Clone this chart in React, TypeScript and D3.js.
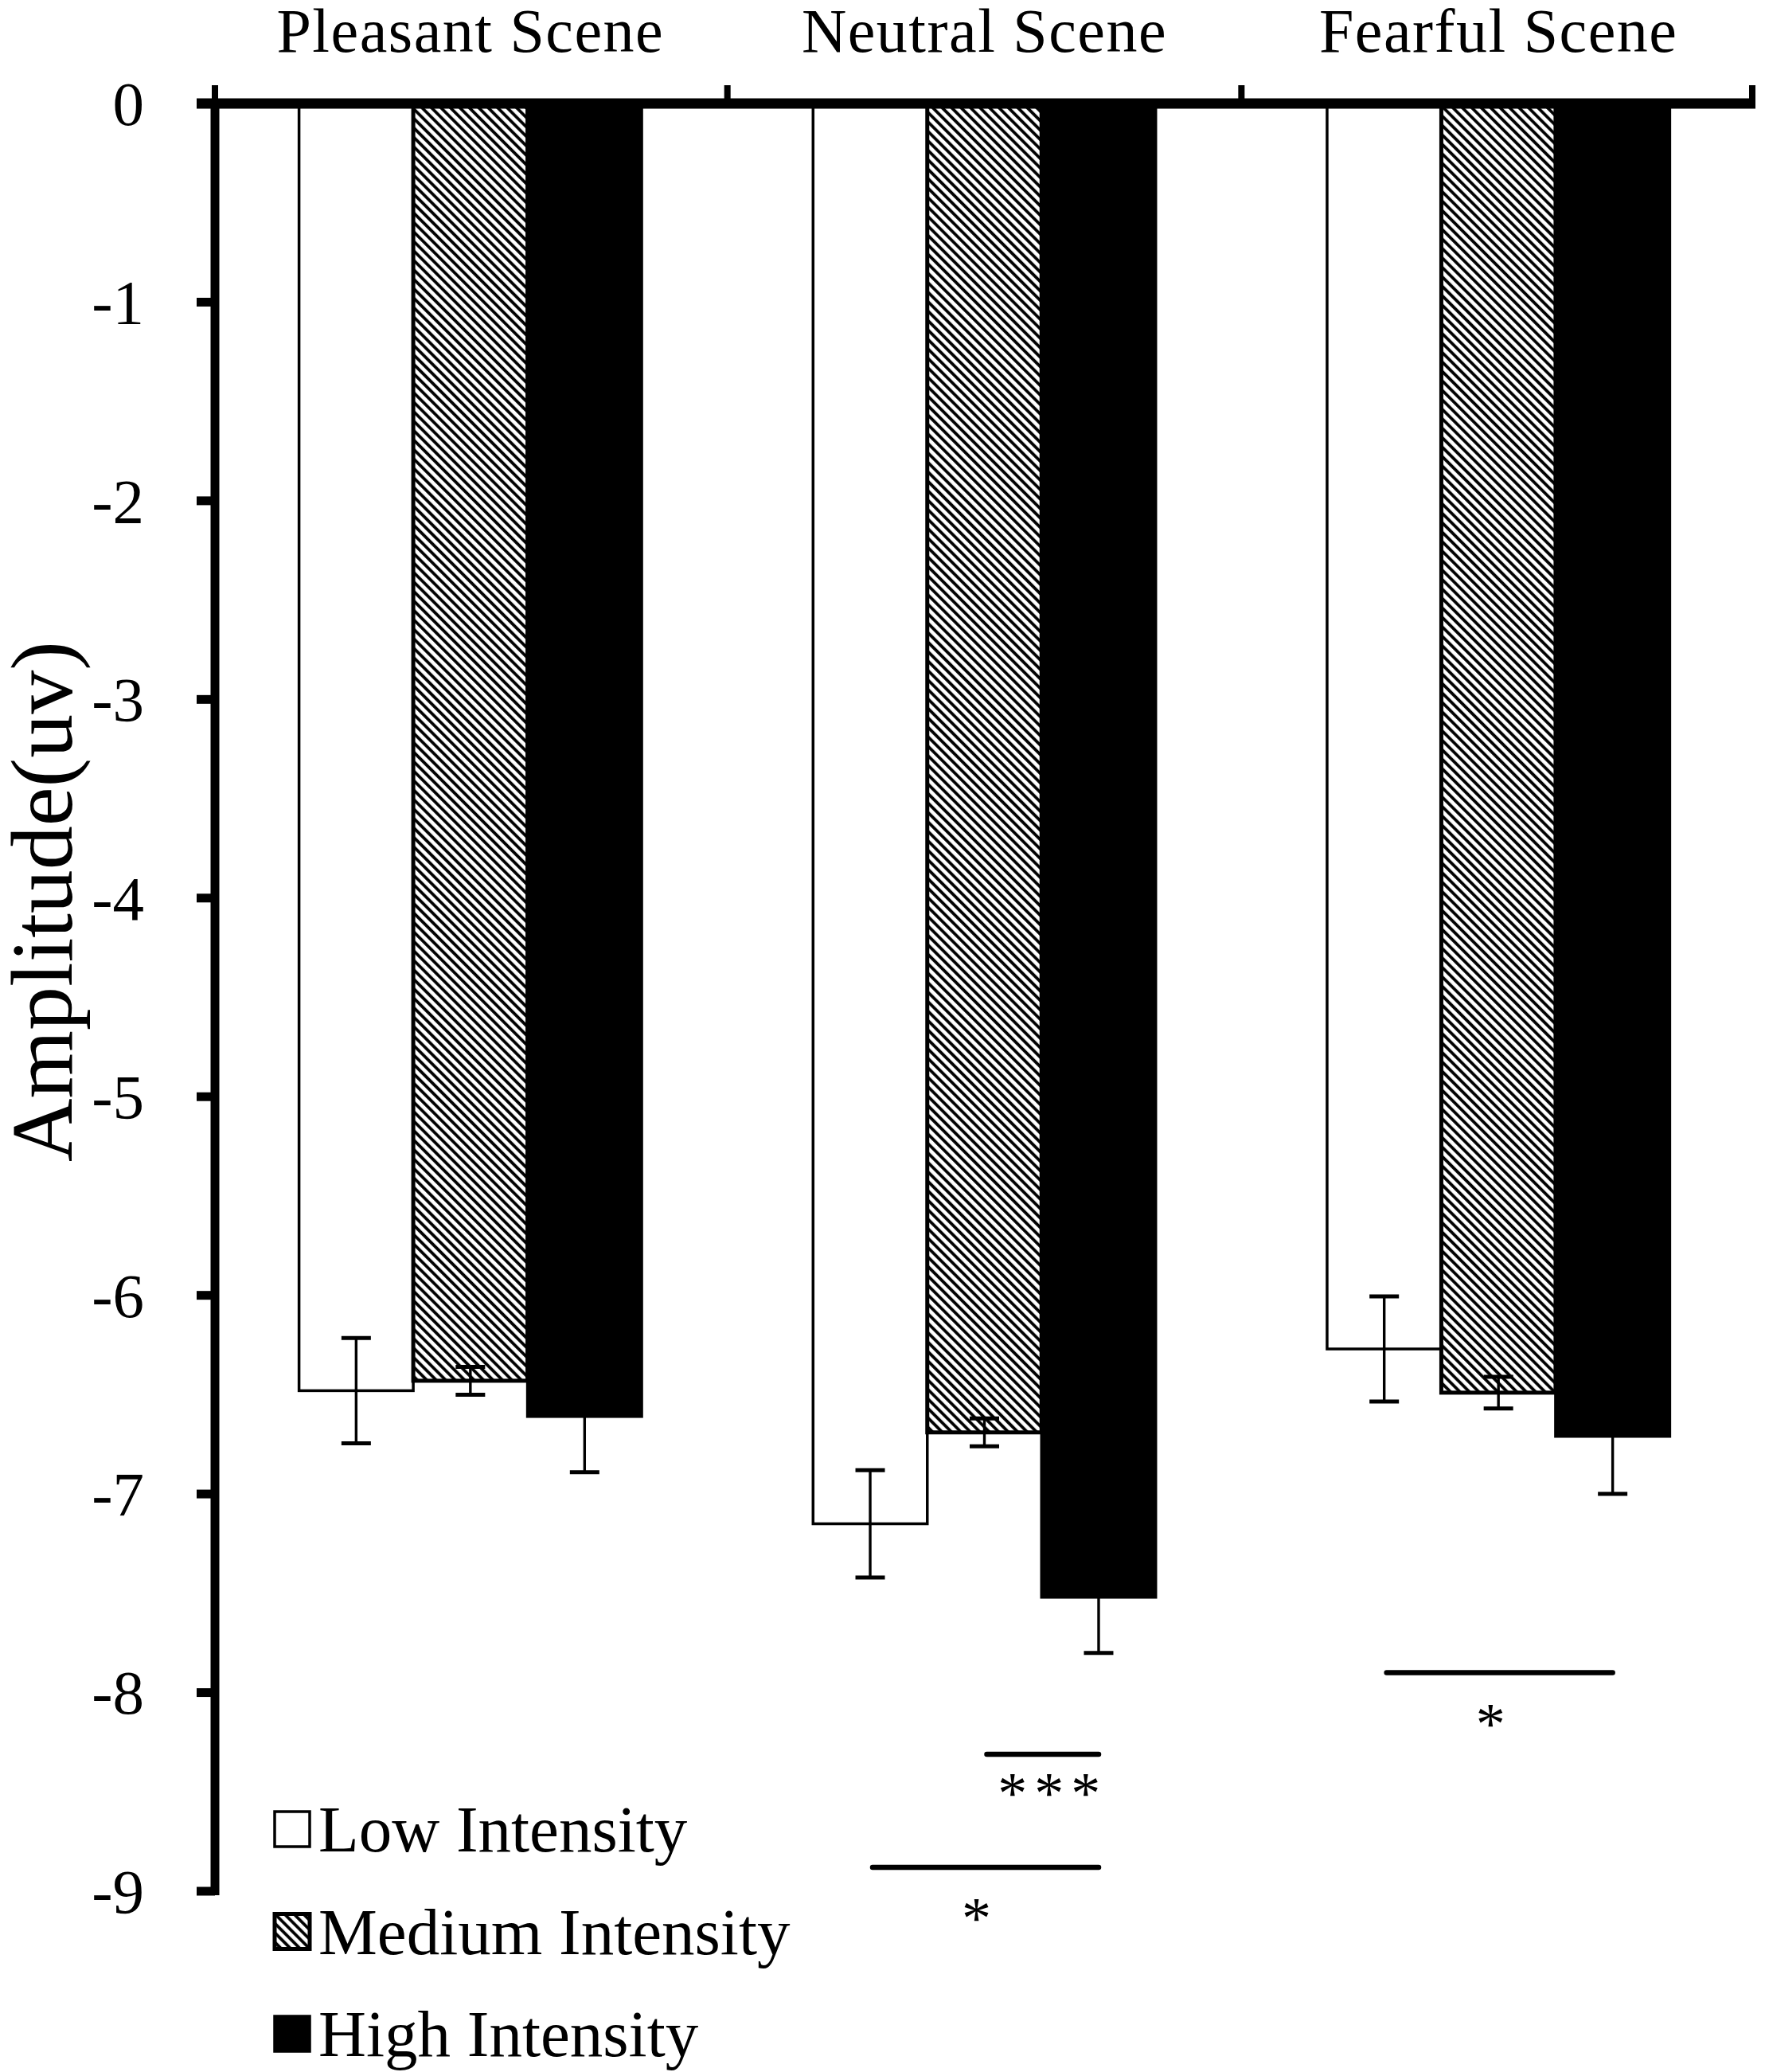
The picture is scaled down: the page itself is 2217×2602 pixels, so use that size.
import React, { useEffect, useRef } from 'react';
import * as d3 from 'd3';

const scenes = ['Pleasant Scene', 'Neutral Scene', 'Fearful Scene'];
const intensities = ['Low Intensity', 'Medium Intensity', 'High Intensity'];

// mean amplitude per scene, one array per intensity
const lowMeans = [-6.48, -7.15, -6.27];
const mediumMeans = [-6.43, -6.69, -6.49];
const highMeans = [-6.61, -7.52, -6.71];

// standard errors
const lowSE = [0.265, 0.27, 0.265];
const mediumSE = [0.07, 0.07, 0.08];
const highSE = [0.28, 0.28, 0.29];

const yTicks = [0, -1, -2, -3, -4, -5, -6, -7, -8, -9];

const comparisons = [
  { scene: 'Neutral Scene', from: 'Medium Intensity', to: 'High Intensity', value: -8.31, label: '***' },
  { scene: 'Neutral Scene', from: 'Low Intensity', to: 'High Intensity', value: -8.88, label: '*' },
  { scene: 'Fearful Scene', from: 'Low Intensity', to: 'High Intensity', value: -7.9, label: '*' },
];

const FONT = "'Liberation Serif', 'Times New Roman', serif";

const App: React.FC = () => {
  const ref = useRef<SVGSVGElement>(null);

  useEffect(() => {
    const svg = d3.select(ref.current);
    svg.selectAll('*').remove();

    const left = 268, right = 2205, top = 130, bottom = 2375;

    const x0 = d3.scaleBand().domain(scenes).range([left, right]).padding(0);
    const x1 = d3.scaleBand()
      .domain(intensities)
      .range([0, x0.bandwidth()])
      .paddingInner(0)
      .paddingOuter(0.75);
    const y = d3.scaleLinear().domain([0, -9]).range([top, bottom]);

    const defs = svg.append('defs');
    const pat = defs.append('pattern')
      .attr('id', 'hatch')
      .attr('patternUnits', 'userSpaceOnUse')
      .attr('width', 8.4)
      .attr('height', 8.4)
      .attr('patternTransform', 'rotate(-45)');
    pat.append('rect').attr('width', 8.4).attr('height', 8.4).attr('fill', '#fff');
    pat.append('line')
      .attr('x1', 2).attr('y1', -1).attr('x2', 2).attr('y2', 10)
      .attr('stroke', '#000').attr('stroke-width', 3.8);

    const means = [lowMeans, mediumMeans, highMeans];
    const ses = [lowSE, mediumSE, highSE];
    const fills = ['#fff', 'url(#hatch)', '#000'];

    const data = scenes.flatMap((scene, i) =>
      intensities.map((key, j) => ({ scene, key, j, mean: means[j][i], se: ses[j][i] })));

    // bars
    svg.append('g')
      .selectAll('rect')
      .data(data)
      .join('rect')
      .attr('x', d => x0(d.scene)! + x1(d.key)!)
      .attr('y', y(0))
      .attr('width', x1.bandwidth())
      .attr('height', d => y(d.mean) - y(0))
      .attr('fill', d => fills[d.j])
      .attr('stroke', '#000')
      .attr('stroke-width', d => (d.j === 1 ? 5 : 3.5));

    // error bars
    const eb = svg.append('g')
      .selectAll('g')
      .data(data)
      .join('g')
      .attr('transform', d => `translate(${x0(d.scene)! + x1(d.key)! + x1.bandwidth() / 2},0)`);
    eb.append('line')
      .attr('y1', d => y(d.mean + d.se))
      .attr('y2', d => y(d.mean - d.se))
      .attr('stroke', '#000').attr('stroke-width', 3.4);
    [1, -1].forEach(sign => {
      eb.append('line')
        .attr('x1', -18.5).attr('x2', 18.5)
        .attr('y1', d => y(d.mean + sign * d.se))
        .attr('y2', d => y(d.mean + sign * d.se))
        .attr('stroke', '#000').attr('stroke-width', 5);
    });

    // top axis at zero
    const axisX = 270;
    svg.append('line')
      .attr('x1', 247).attr('x2', right)
      .attr('y1', y(0)).attr('y2', y(0))
      .attr('stroke', '#000').attr('stroke-width', 13);
    const bounds = [axisX, ...scenes.map(s => x0(s)! + x0.bandwidth())];
    svg.append('g')
      .selectAll('line')
      .data(bounds)
      .join('line')
      .attr('x1', d => Math.min(d, right - 4)).attr('x2', d => Math.min(d, right - 4))
      .attr('y1', y(0)).attr('y2', y(0) - 23)
      .attr('stroke', '#000').attr('stroke-width', 8);

    // left axis
    svg.append('line')
      .attr('x1', axisX).attr('x2', axisX)
      .attr('y1', y(0)).attr('y2', y(-9) + 5)
      .attr('stroke', '#000').attr('stroke-width', 11);
    svg.append('g')
      .selectAll('line')
      .data(yTicks)
      .join('line')
      .attr('x1', 247).attr('x2', axisX)
      .attr('y1', d => y(d)).attr('y2', d => y(d))
      .attr('stroke', '#000').attr('stroke-width', 11);
    svg.append('g')
      .selectAll('text')
      .data(yTicks)
      .join('text')
      .attr('x', 181)
      .attr('y', d => y(d))
      .attr('dy', '0.34em')
      .attr('text-anchor', 'end')
      .attr('font-family', FONT)
      .attr('font-size', 79)
      .text(d => String(d));

    // y title
    svg.append('text')
      .attr('transform', 'translate(90,1132) rotate(-90)')
      .attr('text-anchor', 'middle')
      .attr('font-family', FONT)
      .attr('font-size', 110)
      .text('Amplitude(uv)');

    // scene labels
    svg.append('g')
      .selectAll('text')
      .data(scenes)
      .join('text')
      .attr('x', d => x0(d)! + x0.bandwidth() / 2)
      .attr('y', 65)
      .attr('text-anchor', 'middle')
      .attr('font-family', FONT)
      .attr('font-size', 78)
      .attr('letter-spacing', 1.5)
      .text(d => d);

    // significance lines
    const sig = svg.append('g')
      .selectAll('g')
      .data(comparisons)
      .join('g');
    const cx = (scene: string, key: string) => x0(scene)! + x1(key)! + x1.bandwidth() / 2;
    sig.append('line')
      .attr('x1', d => cx(d.scene, d.from) + 3)
      .attr('x2', d => cx(d.scene, d.to))
      .attr('y1', d => y(d.value)).attr('y2', d => y(d.value))
      .attr('stroke', '#000').attr('stroke-width', 6.5)
      .attr('stroke-linecap', 'round');
    sig.append('text')
      .attr('x', d => (cx(d.scene, d.from) + cx(d.scene, d.to)) / 2 + (d.label.length > 1 ? 14 : -10))
      .attr('y', d => y(d.value) + (d.label.length > 1 ? 74 : 89))
      .attr('text-anchor', 'middle')
      .attr('font-family', FONT)
      .attr('font-size', 74)
      .attr('letter-spacing', d => (d.label.length > 1 ? 9 : 0))
      .text(d => d.label);

    // legend
    const lg = svg.append('g')
      .selectAll('g')
      .data(intensities)
      .join('g')
      .attr('transform', (d, i) => `translate(345,${2325 + i * 128.5})`);
    lg.append('rect')
      .attr('x', 0).attr('y', -50)
      .attr('width', 44).attr('height', 44)
      .attr('fill', (d, i) => fills[i])
      .attr('stroke', '#000')
      .attr('stroke-width', (d, i) => (i === 1 ? 5 : 3.5));
    lg.append('text')
      .attr('x', 55)
      .attr('y', 0)
      .attr('font-family', FONT)
      .attr('font-size', 83)
      .text(d => d);
  }, []);

  return (
    <svg
      ref={ref}
      width={2217}
      height={2602}
      style={{ position: 'absolute', left: 0, top: 0, background: '#fff' }}
    />
  );
};

export default App;
